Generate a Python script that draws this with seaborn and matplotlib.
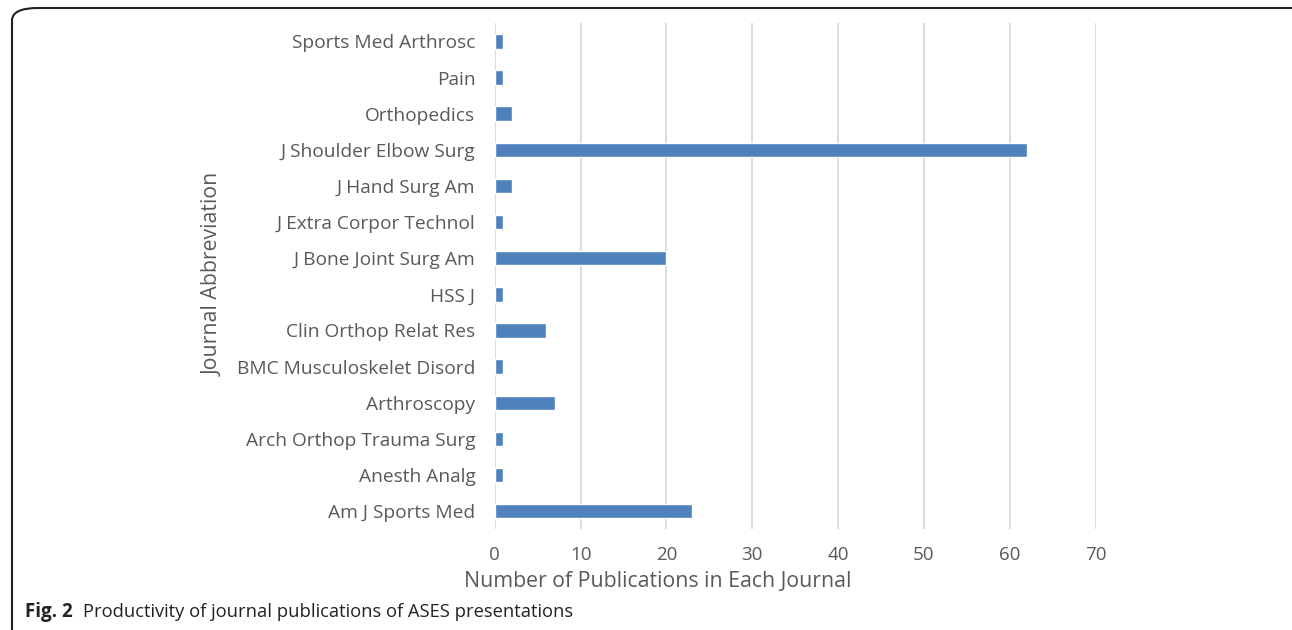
import matplotlib
matplotlib.use("Agg")
import matplotlib.pyplot as plt
from matplotlib.patches import FancyBboxPatch
import seaborn as sns
import pandas as pd

journals = [
    "Sports Med Arthrosc", "Pain", "Orthopedics", "J Shoulder Elbow Surg",
    "J Hand Surg Am", "J Extra Corpor Technol", "J Bone Joint Surg Am", "HSS J",
    "Clin Orthop Relat Res", "BMC Musculoskelet Disord", "Arthroscopy",
    "Arch Orthop Trauma Surg", "Anesth Analg", "Am J Sports Med",
]
publications = [1, 1, 2, 62, 2, 1, 20, 1, 6, 1, 7, 1, 1, 23]
x_ticks = [0, 10, 20, 30, 40, 50, 60, 70]

sns.set_theme(style="white")
plt.rcParams["font.family"] = ["Open Sans", "DejaVu Sans"]

df = pd.DataFrame({"Journal": journals, "Publications": publications})

fig = plt.figure(figsize=(12.92, 6.3), dpi=100)
ax = fig.add_axes([0.383, 0.16, 0.465, 0.803])

sns.barplot(data=df, x="Publications", y="Journal", orient="h",
            color="#4F81BD", saturation=1, width=0.4, ax=ax, zorder=3)

ax.set_xlim(0, 70)
ax.set_xticks(x_ticks)
ax.xaxis.grid(True, color="#D9D9D9", linewidth=1.3, zorder=0)
ax.set_axisbelow(True)
for s in ax.spines.values():
    s.set_visible(False)
ax.tick_params(axis="both", length=0, colors="#595959")
ax.tick_params(axis="y", pad=14, labelsize=13.8)
ax.tick_params(axis="x", pad=12, labelsize=13.5)
ax.set_xlabel("Number of Publications in Each Journal", fontsize=15.3, color="#595959")
ax.set_ylabel("Journal Abbreviation", fontsize=15.3, color="#595959")
ax.xaxis.set_label_coords(0.271, -0.082)
ax.yaxis.set_label_coords(-0.452, 0.504)

# rounded frame around the figure panel
frame = FancyBboxPatch((12 / 1292, -0.05), 1.2, 1.05 - 8 / 630,
                       boxstyle="round,pad=0,rounding_size=0.02",
                       transform=fig.transFigure, fill=False,
                       edgecolor="#222222", linewidth=1.5, clip_on=False)
fig.patches.append(frame)

cap_y = 1 - 612 / 630
fig.text(25 / 1292, cap_y, "Fig. 2", fontsize=13.5, fontweight="bold",
         color="#222222", va="center", ha="left")
fig.text(83 / 1292, cap_y, "Productivity of journal publications of ASES presentations",
         fontsize=13.2, color="#222222", va="center", ha="left")

fig.savefig("out.png", dpi=100)
